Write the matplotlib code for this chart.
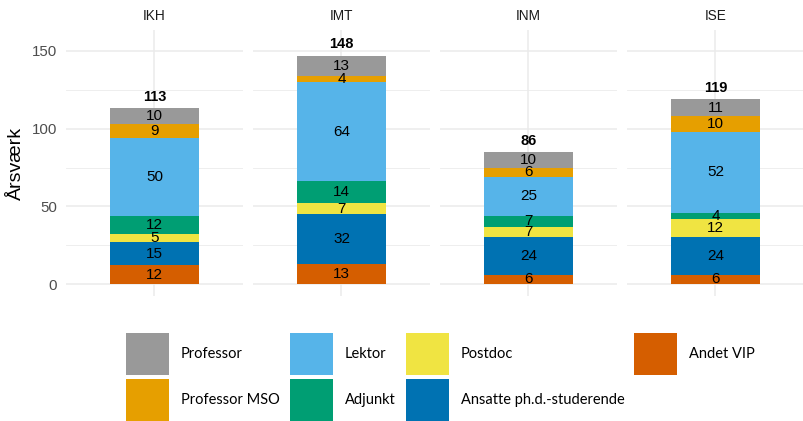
import matplotlib

matplotlib.use("Agg")

import matplotlib.pyplot as plt
from matplotlib.patches import Patch

institutes = ["IKH", "IMT", "INM", "ISE"]

# stack order from the bottom up
categories = [
    "Andet VIP",
    "Ansatte ph.d.-studerende",
    "Postdoc",
    "Adjunkt",
    "Lektor",
    "Professor MSO",
    "Professor",
]
colors = ["#D55E00", "#0072B2", "#F0E442", "#009E73", "#56B4E9", "#E69F00", "#999999"]

andet_vip = [12, 13, 6, 6]
phd = [15, 32, 24, 24]
postdoc = [5, 7, 7, 12]
adjunkt = [12, 14, 7, 4]
lektor = [50, 64, 25, 52]
professor_mso = [9, 4, 6, 10]
professor = [10, 13, 10, 11]
totals = [113, 148, 86, 119]

series = [andet_vip, phd, postdoc, adjunkt, lektor, professor_mso, professor]

W, H = 804, 421
fig = plt.figure(figsize=(W / 100, H / 100), dpi=100)

panel_left = 66
panel_w = 177
gap = 10
ax_bottom = 1 - 296 / H
ax_height = (296 - 30) / H
grid_color = "#EBEBEB"

axes = []
for i, inst in enumerate(institutes):
    left = (panel_left + i * (panel_w + gap)) / W
    ax = fig.add_axes([left, ax_bottom, panel_w / W, ax_height])
    axes.append(ax)

    bottom = 0
    for values, color in zip(series, colors):
        v = values[i]
        ax.bar(0, v, width=0.6, bottom=bottom, color=color, zorder=2)
        ax.text(0, bottom + v / 2, f"{v}", ha="center", va="center",
                fontsize=11, family="Liberation Sans", color="black", zorder=3)
        bottom += v
    ax.annotate(f"{totals[i]}", (0, bottom), xytext=(0, 3), textcoords="offset points",
                ha="center", va="bottom", fontsize=10.5, fontweight="bold",
                family="Liberation Sans", color="black")

    ax.set_xlim(-0.6, 0.6)
    ax.set_ylim(-7.7, 163.5)
    ax.set_yticks([0, 50, 100, 150])
    ax.set_yticks([25, 75, 125], minor=True)
    ax.set_xticks([0])
    ax.grid(True, which="major", color=grid_color, linewidth=1.1, zorder=0)
    ax.grid(True, which="minor", axis="y", color=grid_color, linewidth=0.6, zorder=0)
    ax.set_axisbelow(True)
    for spine in ax.spines.values():
        spine.set_visible(False)
    ax.tick_params(which="both", length=0, pad=6.5, labelsize=10.8, labelcolor="#4D4D4D")
    ax.set_xticklabels([])
    if i > 0:
        ax.set_yticklabels([])
    else:
        for lab in ax.get_yticklabels():
            lab.set_family("Liberation Sans")
    ax.set_title(inst, fontsize=9.8, color="#1A1A1A", pad=7, family="Liberation Sans")

axes[0].set_ylabel("Årsværk", fontsize=14, family="Liberation Sans", labelpad=5)

legend_order = ["Professor", "Professor MSO", "Lektor", "Adjunkt", "Postdoc",
                "Ansatte ph.d.-studerende", "Andet VIP"]
handles = [Patch(facecolor=colors[categories.index(name)], edgecolor="none", label=name)
           for name in legend_order]
fs = 10.5
fspx = fs * 100 / 72
# matplotlib takes a descent off the handle box, so solve for a 42 px key
key_h = 42 / fspx
hh = (key_h - 0.245) / 0.65
fig.legend(handles=handles, ncol=4, loc="upper left",
           bbox_to_anchor=(126 / W, 1 - 333 / H), frameon=False,
           borderpad=0, borderaxespad=0,
           handlelength=43 / fspx, handleheight=hh,
           handletextpad=12 / fspx, columnspacing=10 / fspx,
           labelspacing=4 / fspx,
           prop={"family": "Lato", "size": fs})

fig.savefig("out.png", dpi=100)
